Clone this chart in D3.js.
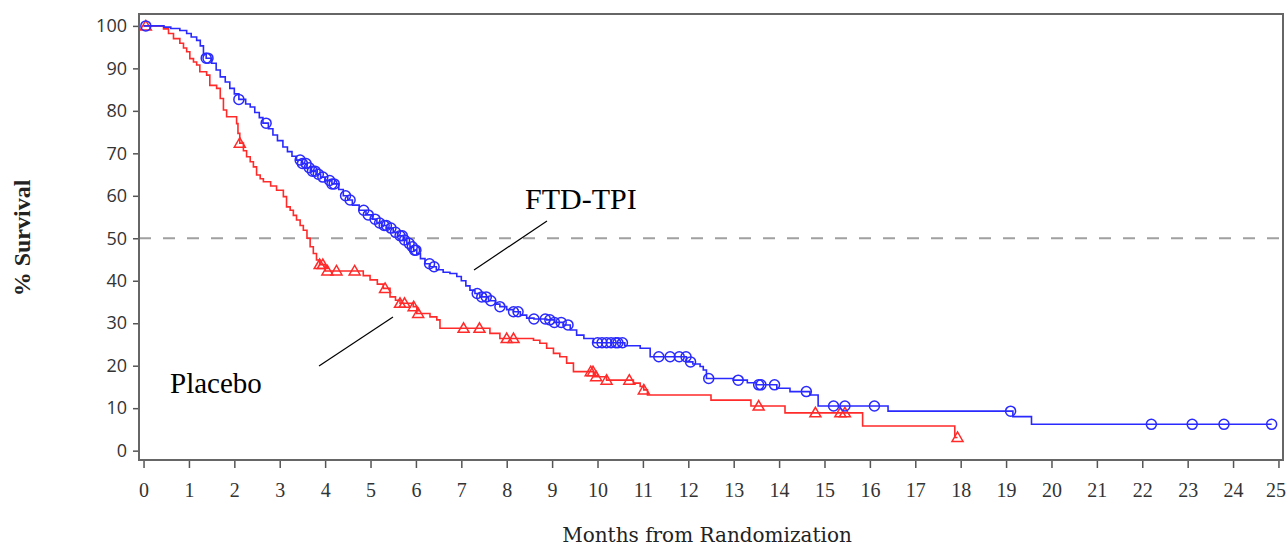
<!DOCTYPE html>
<html>
<head>
<meta charset="utf-8">
<script src="https://cdn.jsdelivr.net/npm/d3@7"></script>
<style>
body { margin: 0; background: #fff; }
</style>
</head>
<body>
<script>
// FTD-TPI arm: step times (months) and % survival
var ftdTime = [0, 0.45, 0.6, 0.8, 0.95, 1.05, 1.17, 1.25, 1.32, 1.38, 1.5, 1.6, 1.69, 1.8, 1.9, 2.0, 2.1, 2.25, 2.35, 2.45, 2.55, 2.63, 2.75, 2.85, 2.95, 3.07, 3.17, 3.27, 3.37, 3.5, 3.6, 3.7, 3.8, 3.9, 4.0, 4.15, 4.3, 4.4, 4.5, 4.6, 4.75, 4.9, 5.05, 5.14, 5.25, 5.36, 5.5, 5.6, 5.72, 5.8, 5.87, 5.95, 6.02, 6.1, 6.2, 6.31, 6.45, 6.6, 6.75, 6.9, 7.0, 7.1, 7.19, 7.3, 7.41, 7.6, 7.75, 7.85, 8.0, 8.15, 8.3, 8.44, 8.6, 8.88, 9.05, 9.25, 9.4, 9.54, 9.7, 9.91, 10.6, 10.94, 11.16, 11.96, 12.1, 12.26, 12.33, 12.4, 12.99, 13.3, 13.5, 13.95, 14.24, 14.68, 14.86, 16.4, 19.15, 19.56, 24.85];
var ftdSurv = [100, 99.7, 99.4, 98.9, 98.2, 97.4, 96.6, 95.3, 93.5, 92.4, 91.2, 89.6, 88.0, 86.8, 85.3, 84.0, 82.7, 81.6, 80.9, 79.6, 78.4, 77.1, 75.8, 74.3, 73.0, 71.5, 70.4, 69.3, 68.4, 67.6, 66.6, 65.8, 65.1, 64.4, 63.6, 62.8, 61.5, 60.0, 59.0, 57.8, 56.6, 55.5, 54.5, 53.6, 53.0, 52.4, 51.4, 50.6, 49.6, 48.8, 48.0, 47.2, 46.4, 45.2, 44.0, 43.3, 42.6, 42.0, 41.7, 41.0, 40.0, 38.8, 37.8, 37.0, 36.2, 35.3, 34.5, 33.9, 33.2, 32.7, 31.9, 31.2, 31.0, 30.8, 30.2, 29.6, 28.4, 27.2, 26.4, 25.4, 24.7, 24.1, 22.1, 20.9, 20.4, 19.8, 19.0, 17.0, 16.6, 16.0, 15.5, 14.7, 13.9, 13.1, 10.5, 9.3, 8.0, 6.2, 6.2];
var ftdCensor = [0.05, 1.38, 1.42, 2.1, 2.7, 3.45, 3.5, 3.58, 3.65, 3.72, 3.78, 3.85, 3.95, 4.1, 4.15, 4.2, 4.45, 4.55, 4.85, 4.95, 5.1, 5.2, 5.3, 5.35, 5.45, 5.55, 5.65, 5.7, 5.75, 5.85, 5.92, 5.97, 6.0, 6.3, 6.4, 7.35, 7.45, 7.55, 7.65, 7.85, 8.15, 8.25, 8.6, 8.85, 8.95, 9.05, 9.2, 9.35, 10.0, 10.1, 10.2, 10.3, 10.4, 10.45, 10.55, 11.35, 11.6, 11.8, 11.95, 12.05, 12.45, 13.1, 13.55, 13.6, 13.9, 14.6, 15.2, 15.45, 16.1, 19.1, 22.2, 23.1, 23.8, 24.85];

// Placebo arm
var plaTime = [0, 0.44, 0.55, 0.66, 0.8, 0.88, 0.95, 1.02, 1.1, 1.17, 1.24, 1.39, 1.46, 1.61, 1.69, 1.76, 1.83, 2.05, 2.08, 2.12, 2.2, 2.27, 2.35, 2.42, 2.49, 2.57, 2.64, 2.8, 2.93, 3.08, 3.15, 3.23, 3.3, 3.37, 3.45, 3.52, 3.6, 3.67, 3.74, 3.81, 3.88, 4.0, 4.84, 4.99, 5.15, 5.28, 5.43, 5.55, 5.65, 5.94, 6.02, 6.31, 6.46, 6.53, 7.63, 7.85, 8.59, 8.73, 8.88, 9.03, 9.17, 9.32, 9.47, 9.91, 10.2, 10.79, 10.94, 11.02, 11.1, 12.5, 13.38, 14.13, 15.84, 17.87, 17.93];
var plaSurv = [100, 99.3, 98.2, 97.0, 95.9, 94.8, 93.9, 92.3, 91.5, 90.8, 89.2, 88.4, 86.0, 85.3, 82.9, 80.2, 78.6, 77.0, 74.7, 72.4, 70.6, 69.2, 68.0, 66.8, 64.9, 64.0, 63.3, 62.3, 61.3, 59.8, 57.4, 56.6, 55.4, 54.3, 53.0, 51.9, 50.0, 48.0, 46.4, 44.9, 43.8, 42.3, 41.2, 40.2, 39.2, 38.2, 36.2, 35.4, 34.7, 33.9, 32.3, 31.5, 30.8, 28.8, 27.6, 26.4, 26.0, 25.3, 24.1, 22.9, 22.1, 20.6, 18.6, 17.4, 16.6, 15.9, 15.1, 14.3, 13.1, 11.9, 10.5, 8.9, 5.8, 3.1, 3.1];
var plaCensor = [0.05, 2.12, 3.88, 3.95, 4.05, 4.25, 4.65, 5.32, 5.65, 5.75, 5.95, 6.05, 7.05, 7.4, 8.0, 8.15, 9.85, 9.9, 9.97, 10.2, 10.7, 11.02, 13.55, 14.8, 15.35, 15.45, 17.93];

var xTicks = d3.range(0, 26);
var yTicks = d3.range(0, 101, 10);

var width = 1288, height = 547;

var svg = d3.select("body").append("svg")
    .attr("width", width)
    .attr("height", height);

var x = d3.scaleLinear().domain([-0.1, 25.1]).range([139, 1283]);
var y = d3.scaleLinear().domain([-2.2, 102.8]).range([460, 14]);

// reference line at median
svg.append("line")
    .attr("x1", x.range()[0]).attr("x2", x.range()[1])
    .attr("y1", y(50)).attr("y2", y(50))
    .attr("stroke", "#a0a0a0")
    .attr("stroke-width", 2)
    .attr("stroke-dasharray", "12,12");

var xAxis = svg.append("g")
    .attr("transform", "translate(0,460)")
    .call(d3.axisBottom(x).tickValues(xTicks).tickSize(8).tickPadding(15).tickFormat(d3.format("d")));
xAxis.select(".domain").remove();
xAxis.selectAll("line").attr("stroke", "#555").attr("stroke-width", 1.5);
xAxis.selectAll("text")
    .attr("fill", "#333")
    .attr("dx", function(d) { return d == 25 ? -3 : 0; })
    .style("font-family", "'Liberation Serif', serif")
    .style("font-size", "20px");

var yAxis = svg.append("g")
    .attr("transform", "translate(139,0)")
    .call(d3.axisLeft(y).tickValues(yTicks).tickSize(6).tickPadding(6));
yAxis.select(".domain").remove();
yAxis.selectAll("line").attr("stroke", "#555").attr("stroke-width", 1.5);
yAxis.selectAll("text")
    .attr("fill", "#333")
    .style("font-family", "'Open Sans', sans-serif")
    .style("font-size", "18px");

// frame
svg.append("rect")
    .attr("x", 139).attr("y", 14)
    .attr("width", 1283 - 139).attr("height", 460 - 14)
    .attr("fill", "none")
    .attr("stroke", "#666")
    .attr("stroke-width", 2);

var line = d3.line()
    .x(function(d) { return x(d[0]); })
    .y(function(d) { return y(d[1]); })
    .curve(d3.curveStepAfter);

function survAt(times, surv, t) {
    var i = d3.bisectRight(times, t) - 1;
    return surv[Math.max(0, i)];
}

function drawArm(times, surv, censor, color, marker) {
    svg.append("path")
        .datum(d3.zip(times, surv))
        .attr("d", line)
        .attr("fill", "none")
        .attr("stroke", color)
        .attr("stroke-width", 1.6);

    var g = svg.append("g");
    censor.forEach(function(t) {
        var cx = x(t), cy = y(survAt(times, surv, t));
        if (marker == "circle") {
            g.append("circle")
                .attr("cx", cx).attr("cy", cy).attr("r", 5)
                .attr("fill", "none").attr("stroke", color).attr("stroke-width", 1.5);
        } else {
            g.append("path")
                .attr("d", "M0,-5.5L5.5,4L-5.5,4Z")
                .attr("transform", "translate(" + cx + "," + cy + ")")
                .attr("fill", "none").attr("stroke", color).attr("stroke-width", 1.5);
        }
    });
}

drawArm(plaTime, plaSurv, plaCensor, "#ff2a2a", "triangle");
drawArm(ftdTime, ftdSurv, ftdCensor, "#2a2aff", "circle");

// labels with leader lines
svg.append("line")
    .attr("x1", 547).attr("y1", 221).attr("x2", 474).attr("y2", 270)
    .attr("stroke", "#000").attr("stroke-width", 1.2);
svg.append("line")
    .attr("x1", 393).attr("y1", 317).attr("x2", 319).attr("y2", 366)
    .attr("stroke", "#000").attr("stroke-width", 1.2);

svg.append("text")
    .attr("x", 525).attr("y", 209)
    .style("font-family", "'Liberation Serif', serif")
    .style("font-size", "30px")
    .text("FTD-TPI");
svg.append("text")
    .attr("x", 170).attr("y", 393)
    .style("font-family", "'Liberation Serif', serif")
    .style("font-size", "29px")
    .text("Placebo");

// axis titles
svg.append("text")
    .attr("x", 707).attr("y", 542)
    .attr("text-anchor", "middle")
    .attr("fill", "#222")
    .style("font-family", "'DejaVu Serif', serif")
    .style("font-size", "20px")
    .text("Months from Randomization");

svg.append("text")
    .attr("transform", "translate(30,238) rotate(-90)")
    .attr("text-anchor", "middle")
    .attr("fill", "#222")
    .style("font-family", "'Liberation Serif', serif")
    .style("font-weight", "bold")
    .style("font-size", "24px")
    .text("% Survival");
</script>
</body>
</html>
